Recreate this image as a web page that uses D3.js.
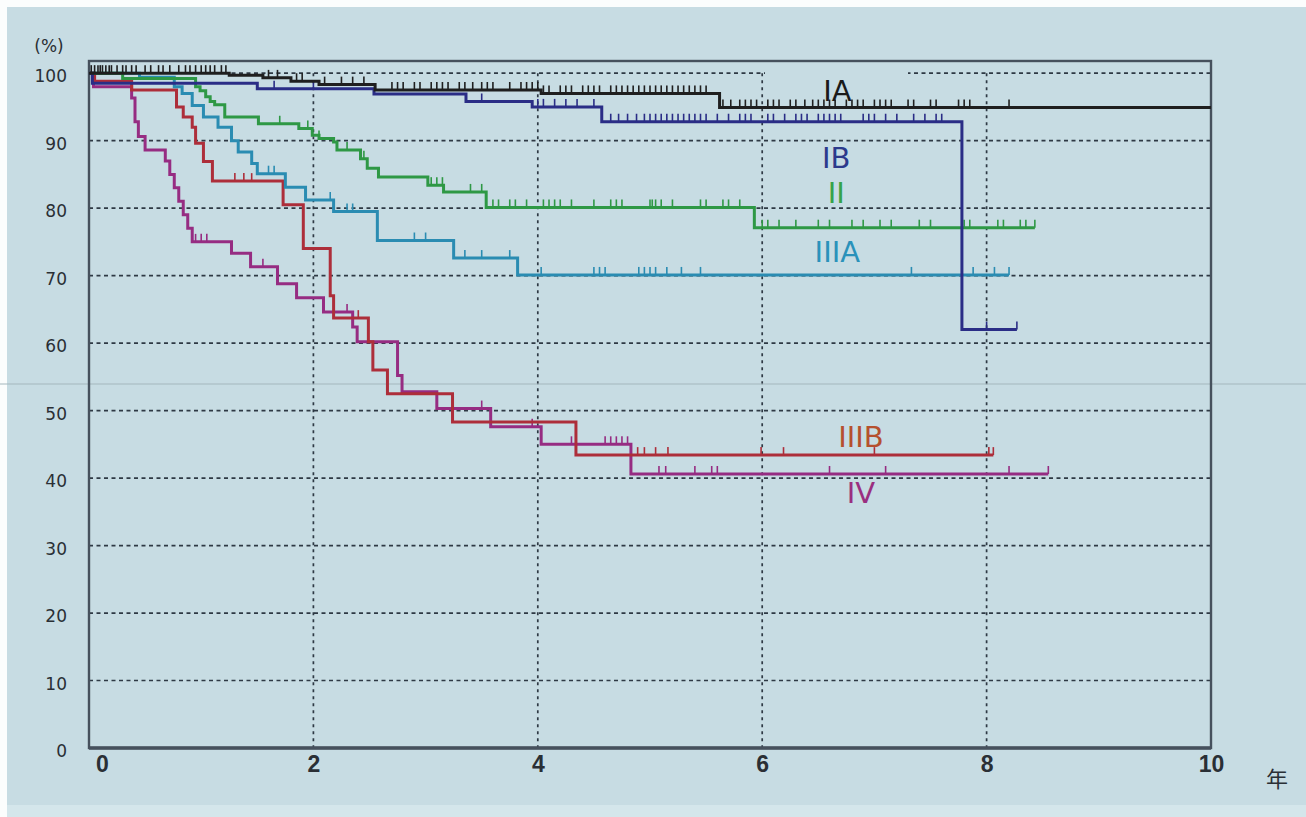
<!DOCTYPE html>
<html><head><meta charset="utf-8">
<script src="https://cdn.jsdelivr.net/npm/d3@7"></script>
<style>html,body{margin:0;padding:0;background:#fff;}svg{display:block;}</style>
</head><body>
<svg id="chart" width="1306" height="817"></svg>
<script>
// ---------------- DATA ----------------
const xTickValues = [0, 2, 4, 6, 8, 10];
const yTickValues = [0, 10, 20, 30, 40, 50, 60, 70, 80, 90, 100];
const xUnitLabel = "年";
const yUnitLabel = "(%)";
const stageNames = ["IA", "IB", "II", "IIIA", "IIIB", "IV"];

// step change times (years) and survival (%) after each change
const iaTimes = [0, 1.25, 1.55, 1.8, 2.05, 2.55, 4.03, 5.62];
const iaSurv  = [100, 99.7, 99.3, 98.8, 98.3, 97.5, 97.0, 94.9];
const iaEnd = 10;

const ibTimes = [0, 0.03, 1.5, 2.54, 3.36, 3.95, 4.57, 7.78];
const ibSurv  = [100, 98.5, 97.7, 96.9, 95.8, 95.0, 92.8, 62.0];
const ibEnd = 8.27;

const iiTimes = [0, 0.3, 0.95, 0.99, 1.04, 1.08, 1.12, 1.21, 1.51, 1.87, 1.99, 2.05, 2.18, 2.21, 2.42, 2.48, 2.58, 3.02, 3.16, 3.54, 5.93];
const iiSurv  = [100, 99.2, 98.0, 97.4, 96.5, 95.8, 95.3, 93.5, 92.5, 91.8, 90.8, 90.3, 89.8, 88.6, 87.3, 85.9, 84.6, 83.4, 82.4, 80.1, 77.1];
const iiEnd = 8.43;

const iiiaTimes = [0, 0.45, 0.76, 0.83, 0.92, 1.02, 1.15, 1.27, 1.33, 1.45, 1.50, 1.75, 1.93, 2.18, 2.57, 3.25, 3.82];
const iiiaSurv  = [100, 99.4, 98.0, 97.0, 95.2, 93.5, 92.0, 90.0, 88.3, 86.6, 85.1, 83.1, 81.2, 79.5, 75.2, 72.6, 70.1];
const iiiaEnd = 8.2;

const iiibTimes = [0, 0.05, 0.38, 0.78, 0.84, 0.92, 0.95, 1.02, 1.10, 1.73, 1.91, 2.15, 2.18, 2.49, 2.53, 2.66, 3.24, 4.34];
const iiibSurv  = [100, 98.8, 97.5, 95.0, 93.5, 92.0, 89.6, 86.9, 84.0, 80.5, 74.0, 67.0, 63.7, 60.2, 56.0, 52.5, 48.3, 43.4];
const iiibEnd = 8.06;

const ivTimes = [0, 0.04, 0.38, 0.41, 0.44, 0.5, 0.68, 0.72, 0.76, 0.80, 0.84, 0.88, 0.92, 1.27, 1.44, 1.68, 1.85, 2.09, 2.35, 2.39, 2.75, 2.79, 3.10, 3.58, 4.03, 4.83];
const ivSurv  = [100, 98.0, 96.3, 92.8, 90.6, 88.6, 87.0, 85.0, 83.0, 81.0, 79.0, 77.0, 75.0, 73.3, 71.3, 68.8, 66.7, 64.6, 62.4, 60.2, 55.2, 52.8, 50.3, 47.6, 45.0, 40.6];
const ivEnd = 8.55;

// censoring marks (years)
const iaCensor = [0.02,0.05,0.08,0.1,0.12,0.15,0.18,0.2,0.25,0.3,0.33,0.38,0.42,0.5,0.55,0.62,0.66,0.72,0.8,0.86,0.9,0.95,1.0,1.04,1.08,1.12,1.18,1.22,1.6,1.68,1.85,1.9,2.1,2.25,2.35,2.45,2.7,2.75,2.8,2.9,2.95,3.05,3.1,3.15,3.2,3.3,3.35,3.42,3.5,3.55,3.6,3.75,3.85,3.9,3.95,4.0,4.05,4.1,4.2,4.25,4.3,4.4,4.45,4.5,4.55,4.65,4.7,4.75,4.8,4.85,4.9,4.95,5.0,5.05,5.1,5.15,5.2,5.25,5.3,5.35,5.4,5.45,5.5,5.65,5.72,5.8,5.85,5.9,5.95,6.05,6.1,6.15,6.25,6.3,6.38,6.45,6.5,6.55,6.6,6.65,6.75,6.8,6.85,6.9,7.0,7.05,7.1,7.15,7.3,7.35,7.5,7.55,7.75,7.8,7.85,8.2];
const ibCensor = [1.65,2.0,3.5,4.0,4.05,4.15,4.25,4.35,4.5,4.65,4.72,4.8,4.88,4.95,5.0,5.05,5.1,5.15,5.2,5.25,5.3,5.35,5.4,5.45,5.5,5.6,5.7,5.8,5.85,5.9,6.05,6.1,6.2,6.3,6.35,6.4,6.5,6.55,6.6,6.65,6.7,6.9,6.95,7.0,7.1,7.2,7.35,7.45,7.55,7.6,8.0,8.27];
const iiCensor = [1.7,1.95,2.05,2.3,2.45,3.05,3.1,3.15,3.4,3.5,3.6,3.65,3.75,3.8,3.9,4.05,4.1,4.15,4.2,4.3,4.5,4.65,4.7,4.75,5.0,5.02,5.05,5.1,5.2,5.45,5.5,5.65,5.7,5.8,6.0,6.05,6.15,6.3,6.5,6.6,6.8,6.9,7.05,7.15,7.4,7.5,7.8,7.85,8.1,8.15,8.3,8.35,8.43];
const iiiaCensor = [1.6,1.65,2.15,2.3,2.35,2.9,3.0,3.35,3.5,3.75,4.03,4.5,4.55,4.6,4.9,4.95,5.0,5.05,5.15,5.28,5.45,7.33,7.88,8.07,8.2];
const iiibCensor = [1.3,1.38,1.45,2.4,4.89,4.95,5.05,5.16,5.99,6.19,7.0,8.02,8.06];
const ivCensor = [0.95,1.0,1.05,1.55,2.3,3.5,3.95,4.3,4.6,4.65,4.7,4.75,4.8,5.08,5.14,5.4,5.55,5.6,6.6,7.1,8.2,8.55];

// ---------------- STYLES ----------------
const stageColors = ["#1f1f1f", "#2a2d86", "#2e9845", "#2a8cb2", "#ad2e3a", "#962c82"];
const labelColors = ["#1a1a1a", "#2c3a8c", "#36a34a", "#2a92ba", "#b5502e", "#9a2f80"];

// ---------------- DRAW ----------------
const svg = d3.select("#chart");
const W = 1306, H = 817;
const bg = "#c7dce3";

svg.append("rect").attr("x", 0).attr("y", 0).attr("width", W).attr("height", H).attr("fill", "#fbfdfd");
svg.append("rect").attr("x", 7).attr("y", 7).attr("width", W - 7).attr("height", 798).attr("fill", bg);
svg.append("rect").attr("x", 7).attr("y", 805).attr("width", W - 7).attr("height", 12).attr("fill", "#d4e6eb");

const x = d3.scaleLinear().domain([0, 10]).range([89, 1211]);
const y = d3.scaleLinear().domain([0, 101.8]).range([748, 61]);

// gridlines
const grid = svg.append("g");
grid.selectAll("line.h").data(yTickValues.filter(v => v > 0)).join("line")
  .attr("x1", x(0)).attr("x2", x(10)).attr("y1", d => y(d)).attr("y2", d => y(d))
  .attr("stroke", "#2e3944").attr("stroke-width", 1.7).attr("stroke-dasharray", "4 3.5");
grid.selectAll("line.v").data(xTickValues.filter(v => v > 0 && v < 10)).join("line")
  .attr("x1", d => x(d)).attr("x2", d => x(d)).attr("y1", y(100)).attr("y2", y(0))
  .attr("stroke", "#2e3944").attr("stroke-width", 1.7).attr("stroke-dasharray", "3 4");

// scan line artifact
svg.append("line").attr("x1", 0).attr("x2", W).attr("y1", 384).attr("y2", 384)
  .attr("stroke", "#a4b7bd").attr("stroke-width", 1);

// label box hiding top gridline behind IA label
svg.append("rect").attr("x", 765).attr("y", 66).attr("width", 143).attr("height", 14).attr("fill", bg);

// frame
svg.append("rect").attr("x", x(0)).attr("y", y(101.8)).attr("width", x(10) - x(0)).attr("height", y(0) - y(101.8))
  .attr("fill", "none").attr("stroke", "#46515d").attr("stroke-width", 2.4);
svg.append("line").attr("x1", x(0)).attr("x2", x(10)).attr("y1", y(0)).attr("y2", y(0))
  .attr("stroke", "#46515d").attr("stroke-width", 3.4);

// axes (labels only)
const xAxis = d3.axisBottom(x).tickValues(xTickValues).tickSize(0).tickPadding(8).tickFormat(d3.format("d"));
const gx = svg.append("g").attr("transform", `translate(0,${y(0)})`).call(xAxis);
gx.select(".domain").remove();
gx.selectAll("text").attr("font-family", "'Liberation Sans', Arial, sans-serif").attr("font-size", 23)
  .attr("font-weight", "bold").attr("fill", "#2a2f35").attr("dy", "0.71em");
gx.selectAll(".tick").filter(d => d === 0).select("text").attr("x", 13);

const yAxis = d3.axisLeft(y).tickValues(yTickValues).tickSize(0).tickPadding(22).tickFormat(d3.format("d"));
const gy = svg.append("g").attr("transform", `translate(${x(0)},0)`).call(yAxis);
gy.select(".domain").remove();
gy.selectAll("text").attr("font-family", "'DejaVu Sans', sans-serif").attr("font-size", 17)
  .attr("fill", "#2a2f35").attr("dy", "0.5em");

svg.append("text").attr("x", 49).attr("y", 52).attr("text-anchor", "middle")
  .attr("font-family", "'DejaVu Sans', sans-serif").attr("font-size", 17).attr("fill", "#2a2f35")
  .text(yUnitLabel);
svg.append("text").attr("x", 1277).attr("y", 787).attr("text-anchor", "middle")
  .attr("font-family", "'Noto Sans CJK JP', sans-serif").attr("font-size", 22).attr("fill", "#2a2f35")
  .text(xUnitLabel);

// curves
const seriesTimes = [iaTimes, ibTimes, iiTimes, iiiaTimes, iiibTimes, ivTimes];
const seriesSurv = [iaSurv, ibSurv, iiSurv, iiiaSurv, iiibSurv, ivSurv];
const seriesEnd = [iaEnd, ibEnd, iiEnd, iiiaEnd, iiibEnd, ivEnd];
const seriesCensor = [iaCensor, ibCensor, iiCensor, iiiaCensor, iiibCensor, ivCensor];

function survAt(times, surv, t) {
  let v = surv[0];
  for (let i = 0; i < times.length; i++) { if (times[i] <= t) v = surv[i]; }
  return v;
}

const line = d3.line().x(d => x(d[0])).y(d => y(d[1])).curve(d3.curveStepAfter);
const drawOrder = [5, 4, 3, 2, 1, 0];
drawOrder.forEach(i => {
  const pts = seriesTimes[i].map((t, k) => [t, seriesSurv[i][k]]);
  pts.push([seriesEnd[i], seriesSurv[i][seriesSurv[i].length - 1]]);
  const g = svg.append("g");
  g.append("path").attr("d", line(pts)).attr("fill", "none")
    .attr("stroke", stageColors[i]).attr("stroke-width", 3).attr("stroke-linejoin", "miter");
  g.selectAll("line").data(seriesCensor[i]).join("line")
    .attr("x1", d => x(d)).attr("x2", d => x(d))
    .attr("y1", d => y(survAt(seriesTimes[i], seriesSurv[i], d)))
    .attr("y2", d => y(survAt(seriesTimes[i], seriesSurv[i], d)) - 8)
    .attr("stroke", stageColors[i]).attr("stroke-width", 1.6);
});

// stage labels
const labelPos = [[6.67, 95.9], [6.66, 86.0], [6.66, 80.8], [6.67, 72.0], [6.88, 44.6], [6.88, 36.3]];
stageNames.forEach((name, i) => {
  svg.append("text").attr("x", x(labelPos[i][0])).attr("y", y(labelPos[i][1]))
    .attr("text-anchor", "middle").attr("font-family", "'DejaVu Sans', sans-serif")
    .attr("font-size", 29).attr("fill", labelColors[i]).text(name);
});
</script>
</body></html>
